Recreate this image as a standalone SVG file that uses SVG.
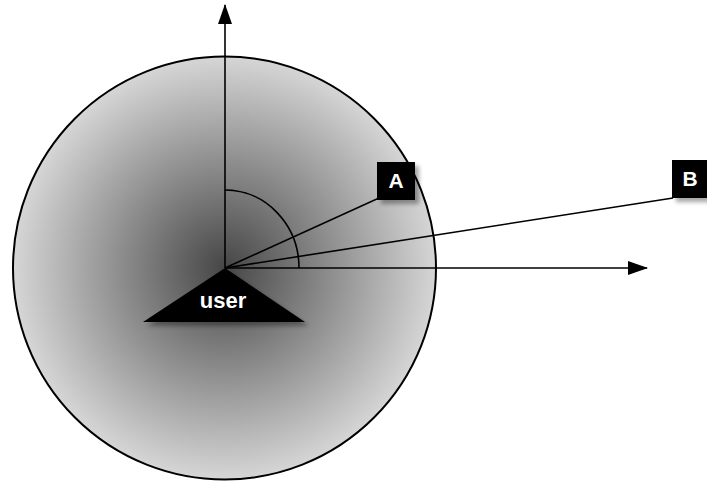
<svg xmlns="http://www.w3.org/2000/svg" width="707" height="481" viewBox="0 0 707 481">
  <style>
    .ln { fill: none; stroke: #000; stroke-width: 1.6; }
    .lbl { font-family: "Liberation Sans", Arial, sans-serif; font-weight: bold; fill: #fff; text-anchor: middle; }
  </style>
  <defs>
    <radialGradient id="zone" gradientUnits="userSpaceOnUse" cx="225" cy="268" r="212">
      <stop offset="0" stop-color="#464646"/>
      <stop offset="1" stop-color="#d6d6d6"/>
    </radialGradient>
    <filter id="sh" x="-20%" y="-20%" width="150%" height="150%">
      <feDropShadow dx="4" dy="4" stdDeviation="2" flood-color="#000" flood-opacity="0.35"/>
    </filter>
    <marker id="ah" viewBox="0 0 20 14" refX="19" refY="7" markerWidth="20" markerHeight="14" markerUnits="userSpaceOnUse" orient="auto">
      <path d="M0,0 L20,7 L0,14 Z" fill="#000"/>
    </marker>
  </defs>
  <g id="zone-circle">
    <circle cx="224.5" cy="268" r="211.5" fill="url(#zone)" stroke="#000" stroke-width="2"/>
  </g>
  <g id="connectors">
    <line class="ln" x1="225" y1="268" x2="225" y2="5" marker-end="url(#ah)"/>
    <line class="ln" x1="225" y1="268" x2="647" y2="268" marker-end="url(#ah)"/>
    <line class="ln" x1="225" y1="268" x2="379" y2="198"/>
    <line class="ln" x1="225" y1="268" x2="673" y2="198"/>
    <path class="ln" d="M225,190 A74,78 0 0 1 299,268"/>
  </g>
  <g id="user">
    <polygon points="225,268 143,322 305,322" fill="#000" filter="url(#sh)"/>
    <text class="lbl" x="223" y="308" font-size="22">user</text>
  </g>
  <g id="A">
    <rect x="377" y="162" width="38" height="38" fill="#000" filter="url(#sh)"/>
    <text class="lbl" x="396" y="188" font-size="21">A</text>
  </g>
  <g id="B">
    <rect x="672" y="160" width="38" height="38" fill="#000" filter="url(#sh)"/>
    <text class="lbl" x="690" y="186" font-size="21">B</text>
  </g>
</svg>
